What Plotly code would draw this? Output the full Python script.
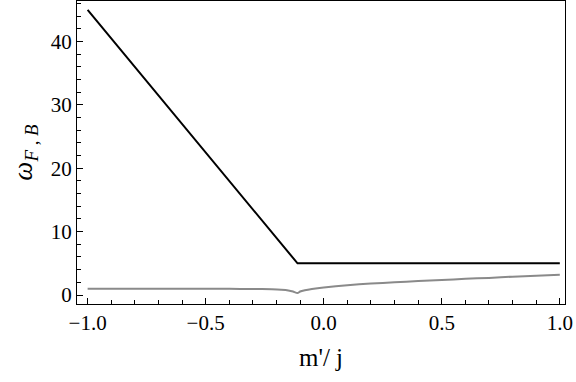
import plotly.graph_objects as go

# ── Data ─────────────────────────────────────────────────────────────────────
fermion_x = [-1.0, -0.111, 1.0]
fermion_y = [45.0, 5.0, 5.0]

boson_x = [-1.0, -0.8, -0.6, -0.4, -0.3, -0.22, -0.18, -0.15, -0.13,
           -0.111, -0.1, -0.08, -0.05, 0.0, 0.1, 0.2, 0.3, 0.4, 0.5,
           0.6, 0.7, 0.8, 0.9, 1.0]
boson_y = [1.0, 1.0, 0.99, 0.97, 0.95, 0.9, 0.83, 0.72, 0.55,
           0.3, 0.55, 0.75, 0.95, 1.2, 1.55, 1.8, 2.0, 2.2, 2.35,
           2.55, 2.7, 2.9, 3.05, 3.2]

x_ticks = [-1.0, -0.5, 0.0, 0.5, 1.0]
x_ticklabels = ["\u22121.0", "\u22120.5", "0.0", "0.5", "1.0"]
y_ticks = [0, 10, 20, 30, 40]

SERIF = "Liberation Serif, Times New Roman, serif"

fig = go.Figure()
fig.add_trace(go.Scatter(
    x=boson_x, y=boson_y, mode="lines",
    line=dict(color="#8a8a8a", width=2, shape="spline", smoothing=0.6),
))
fig.add_trace(go.Scatter(
    x=fermion_x, y=fermion_y, mode="lines",
    line=dict(color="black", width=2),
))

axis_common = dict(
    showgrid=False, zeroline=False, showline=True, linecolor="black",
    linewidth=1, mirror=True, ticks="inside", ticklen=6, tickcolor="black",
    tickfont=dict(family=SERIF, size=21, color="black"),
    automargin=False,
)

fig.update_layout(
    width=576, height=382,
    plot_bgcolor="white", paper_bgcolor="white",
    showlegend=False,
    font=dict(family=SERIF, color="black"),
    margin=dict(l=77, r=11, t=1, b=78),
    xaxis=dict(
        **axis_common,
        range=[-1.045, 1.022],
        tickvals=x_ticks, ticktext=x_ticklabels,
        minor=dict(dtick=0.1, tick0=0, ticks="inside", ticklen=4,
                   tickcolor="black"),
        title=dict(text="m'/ j",
                   font=dict(family=SERIF, size=25, color="black"),
                   standoff=14),
    ),
    yaxis=dict(
        **axis_common,
        range=[-1.42, 46.4],
        tickvals=y_ticks,
        minor=dict(dtick=2, tick0=0, ticks="inside", ticklen=4,
                   tickcolor="black"),
        title=dict(text="<i>\u03c9</i><sub><i>F</i> , <i>B</i></sub>",
                   font=dict(family=SERIF, size=27, color="black"),
                   standoff=10),
    ),
)

# the page's default body margin would shift the figure by 8px
fig.write_html("out.html", config={"displayModeBar": False},
               post_script="document.body.style.margin='0';")
